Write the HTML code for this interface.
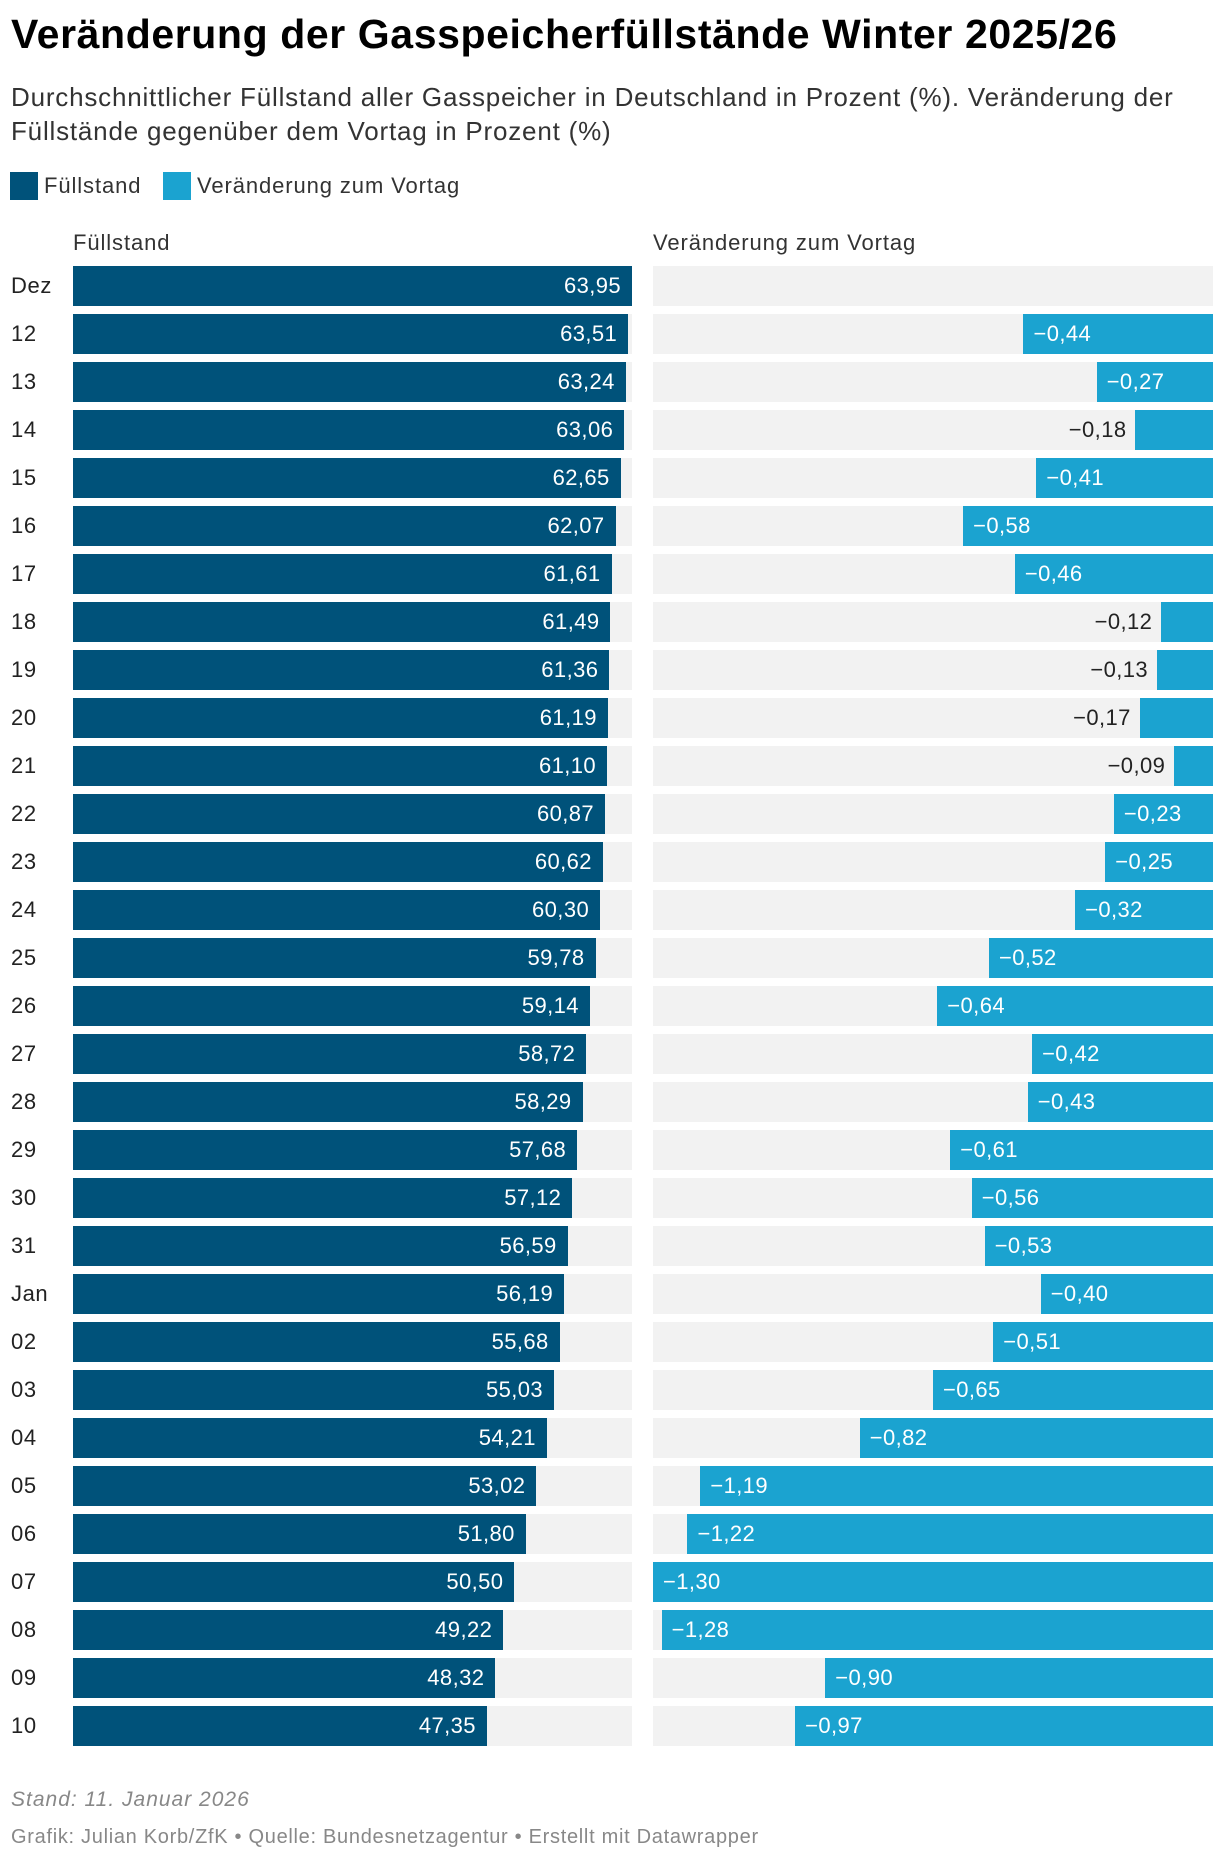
<!DOCTYPE html>
<html><head><meta charset="utf-8">
<style>
body{margin:0;background:#fff;font-family:"Liberation Sans",sans-serif;color:#1d1d1d;}
#wrap{position:relative;width:1220px;height:1860px;overflow:hidden;}
.abs{position:absolute;white-space:nowrap;}
</style></head><body>
<div id="wrap">
<div class="abs" style="left:11px;top:11px;font-size:41px;font-weight:bold;color:#000;letter-spacing:0.6px;">Veränderung der Gasspeicherfüllstände Winter 2025/26</div>
<div class="abs" style="left:11px;top:80px;font-size:26px;line-height:34px;color:#333;white-space:normal;width:1200px;letter-spacing:0.8px;">Durchschnittlicher Füllstand aller Gasspeicher in Deutschland in Prozent (%). Veränderung der Füllstände gegenüber dem Vortag in Prozent (%)</div>
<div class="abs" style="left:10px;top:172px;width:28px;height:28px;background:#00527a;"></div>
<div class="abs" style="left:44px;top:172px;font-size:22px;line-height:28px;color:#333;letter-spacing:0.9px;">Füllstand</div>
<div class="abs" style="left:163px;top:172px;width:28px;height:28px;background:#1ba3d0;"></div>
<div class="abs" style="left:197px;top:172px;font-size:22px;line-height:28px;color:#333;letter-spacing:0.9px;">Veränderung zum Vortag</div>
<div class="abs" style="left:73px;top:229px;font-size:22px;line-height:28px;color:#333;letter-spacing:0.9px;">Füllstand</div>
<div class="abs" style="left:653px;top:229px;font-size:22px;line-height:28px;color:#333;letter-spacing:0.9px;">Veränderung zum Vortag</div>
<div id="rows"></div>
<div class="abs" style="left:11px;top:1788px;font-size:21px;font-style:italic;color:#888;letter-spacing:1px;">Stand: 11. Januar 2026</div>
<div class="abs" style="left:11px;top:1826px;font-size:20px;color:#888;letter-spacing:0.7px;">Grafik: Julian Korb/ZfK • Quelle: Bundesnetzagentur • Erstellt mit Datawrapper</div>
</div>
<script>
const categories=["Dez","12","13","14","15","16","17","18","19","20","21","22","23","24","25","26","27","28","29","30","31","Jan","02","03","04","05","06","07","08","09","10"];
const fuellstand=[63.95,63.51,63.24,63.06,62.65,62.07,61.61,61.49,61.36,61.19,61.10,60.87,60.62,60.30,59.78,59.14,58.72,58.29,57.68,57.12,56.59,56.19,55.68,55.03,54.21,53.02,51.80,50.50,49.22,48.32,47.35];
const veraenderung=[null,-0.44,-0.27,-0.18,-0.41,-0.58,-0.46,-0.12,-0.13,-0.17,-0.09,-0.23,-0.25,-0.32,-0.52,-0.64,-0.42,-0.43,-0.61,-0.56,-0.53,-0.40,-0.51,-0.65,-0.82,-1.19,-1.22,-1.30,-1.28,-0.90,-0.97];
const L0=73,LW=559,R0=653,RW=560,Y0=266,PITCH=48,BH=40;
const lmax=Math.max(...fuellstand);
const rmax=Math.max(...veraenderung.filter(v=>v!==null).map(v=>-v));
const xL=v=>v/lmax*LW;
const xR=v=>(-v)/rmax*RW;
const fmt=v=>v.toFixed(2).replace('.',',').replace('-','\u2212');
const root=document.getElementById('rows');
function mk(style,text){const d=document.createElement('div');d.className='abs';d.style.cssText=style;if(text!=null)d.textContent=text;root.appendChild(d);return d;}
categories.forEach((c,i)=>{
  const y=Y0+i*PITCH;
  const lab=mk(`left:11px;top:${y}px;height:${BH}px;line-height:${BH}px;font-size:22px;color:#222;letter-spacing:0.6px;`,c);
  
  
  const bg1=mk(`left:${L0}px;top:${y}px;width:${LW}px;height:${BH}px;background:#f2f2f2;`);
  
  
  const w=xL(fuellstand[i]);
  const b=mk(`left:${L0}px;top:${y}px;width:${w}px;height:${BH}px;background:#00527a;color:#fff;font-size:22px;line-height:${BH}px;text-align:right;box-sizing:border-box;padding-right:11px;letter-spacing:0.4px;`,fmt(fuellstand[i]));
  
  
  const bg2=mk(`left:${R0}px;top:${y}px;width:${RW}px;height:${BH}px;background:#f2f2f2;`);
  
  
  const v=veraenderung[i];
  if(v!==null){
    const rw=xR(v);
    const inside=rw>88;
    const rb=mk(`left:${R0+RW-rw}px;top:${y}px;width:${rw}px;height:${BH}px;background:#1ba3d0;color:#fff;font-size:22px;line-height:${BH}px;box-sizing:border-box;padding-left:10px;letter-spacing:0.4px;`,inside?fmt(v):'');
    
    
    if(!inside){
      const t=mk(`right:${1220-(R0+RW-rw)+9}px;top:${y}px;height:${BH}px;line-height:${BH}px;font-size:22px;color:#222;letter-spacing:0.4px;`,fmt(v));
      
      
    }
  }
});
</script>
</body></html>
